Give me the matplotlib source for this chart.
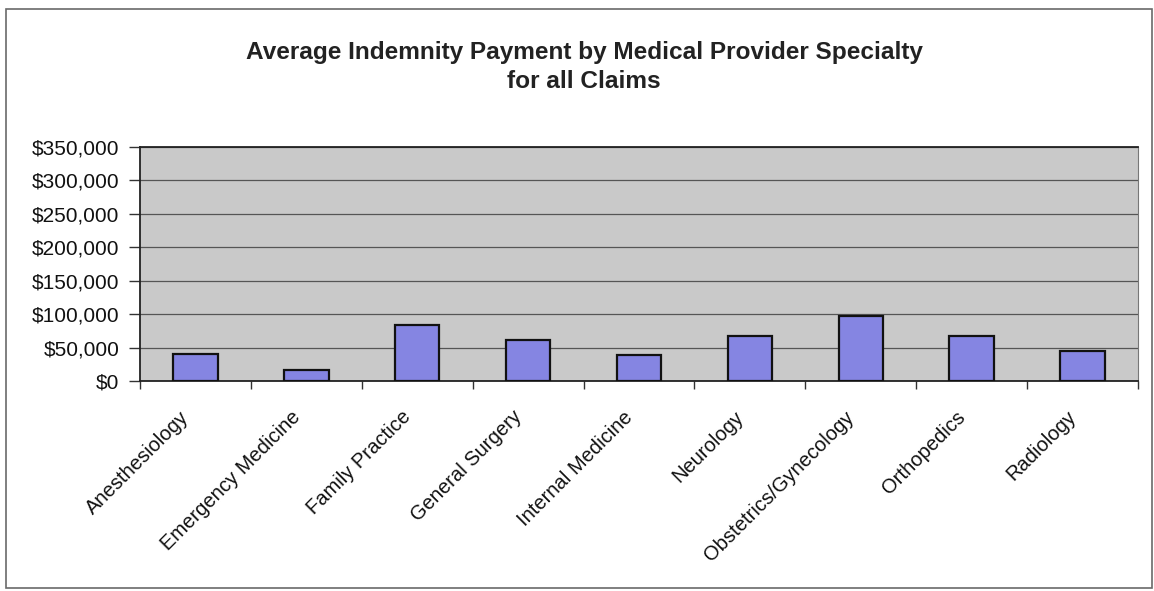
import matplotlib
matplotlib.use("Agg")
import matplotlib.pyplot as plt
from matplotlib.patches import Rectangle
from matplotlib.ticker import FuncFormatter, MultipleLocator
from matplotlib.transforms import ScaledTranslation
import numpy as np

# Average indemnity payment per specialty (USD)
specialties = ["Anesthesiology", "Emergency Medicine", "Family Practice",
               "General Surgery", "Internal Medicine", "Neurology",
               "Obstetrics/Gynecology", "Orthopedics", "Radiology"]
avg_payment = [40400, 16700, 83300, 61000, 38300, 67100, 96500, 67100, 45000]

plt.rcParams['font.family'] = ['Liberation Sans', 'DejaVu Sans']

fig = plt.figure(figsize=(11.54, 5.91), dpi=100)
fig.patch.set_facecolor('white')

# outer chart border
fig.patches.append(Rectangle((6/1154, 3/591), 1146/1154, 579/591,
                             transform=fig.transFigure, fill=False,
                             edgecolor='#6a6a6a', linewidth=1.2))

ax = fig.add_axes([140/1154, 1 - 381/591, 998/1154, 234/591])
ax.set_facecolor('#c9c9c9')

x = np.arange(len(specialties))
ax.bar(x, avg_payment, width=0.4, color='#8585e2', edgecolor='#111111',
       linewidth=1.6, zorder=3)

ax.set_xlim(-0.5, len(specialties) - 0.5)
ax.set_ylim(0, 350000)
ax.yaxis.set_major_locator(MultipleLocator(50000))
ax.yaxis.set_major_formatter(FuncFormatter(lambda v, p: f"${v:,.0f}"))
ax.grid(axis='y', color='#555555', linewidth=0.9, zorder=1)

# category ticks sit on the boundaries, labels at the bar centres
ax.set_xticks(np.arange(len(specialties) + 1) - 0.5)
ax.set_xticklabels([])
ax.set_xticks(x, minor=True)
ax.set_xticklabels(specialties, minor=True, rotation=45, ha='right',
                   rotation_mode='anchor', fontsize=14.5, color='#111111')
ax.tick_params(axis='x', which='minor', length=0, pad=19)
ax.tick_params(axis='x', which='major', length=6, width=1, color='#333333', direction='out')
ax.tick_params(axis='y', length=8, width=1, color='#333333', labelsize=15,
               labelcolor='#111111', pad=7)

shift = ScaledTranslation(-16/100, 0, fig.dpi_scale_trans)
for lbl in ax.get_xticklabels(minor=True):
    lbl.set_transform(lbl.get_transform() + shift)

for side in ['left', 'bottom', 'top']:
    ax.spines[side].set_color('#222222')
    ax.spines[side].set_linewidth(1.3)
ax.spines['right'].set_color('#777777')

fig.text(584/1154, 1 - 52/591, "Average Indemnity Payment by Medical Provider Specialty",
         ha='center', va='center', fontsize=17.6, fontweight='bold', color='#222222')
fig.text(584/1154, 1 - 81/591, "for all Claims",
         ha='center', va='center', fontsize=17.6, fontweight='bold', color='#222222')

fig.savefig("out.png", dpi=100)
